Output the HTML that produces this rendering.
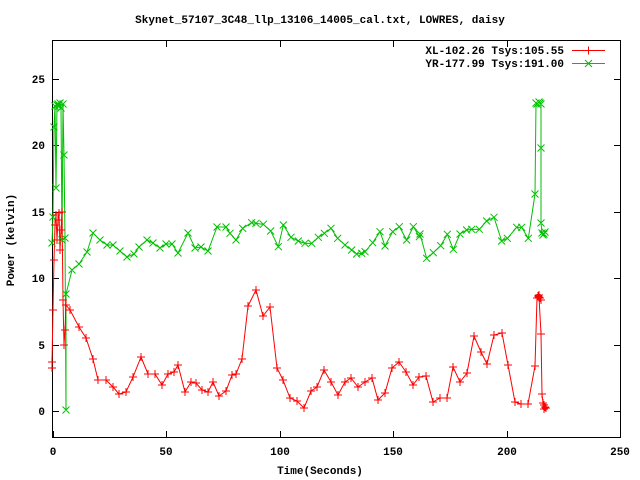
<!DOCTYPE html><html><head><meta charset="utf-8"><style>body{margin:0;background:#fff}svg{display:block}text{font-family:"Liberation Mono",monospace;font-size:11px;font-weight:bold;fill:#000}</style></head><body>
<svg id="s" width="640" height="480" xmlns="http://www.w3.org/2000/svg">
<rect x="0" y="0" width="640" height="480" fill="#fff"/>
<text x="320" y="23" text-anchor="middle">Skynet_57107_3C48_llp_13106_14005_cal.txt, LOWRES, daisy</text>
<g stroke="#000" stroke-width="1" fill="none">
<rect x="52.5" y="40.5" width="568" height="397"/>
<path d="M53 411.5h6M53 345.5h6M53 278.5h6M53 212.5h6M53 145.5h6M53 79.5h6M620 411.5h-6M620 345.5h-6M620 278.5h-6M620 212.5h-6M620 145.5h-6M620 79.5h-6M53.5 437v-6M166.5 437v-6M280.5 437v-6M393.5 437v-6M507.5 437v-6M166.5 41v6M280.5 41v6M393.5 41v6M507.5 41v6"/>
</g>
<g text-anchor="end"><text x="45" y="415">0</text><text x="45" y="349">5</text><text x="45" y="282">10</text><text x="45" y="216">15</text><text x="45" y="149">20</text><text x="45" y="83">25</text></g>
<g text-anchor="middle"><text x="53" y="455">0</text><text x="166" y="455">50</text><text x="280" y="455">100</text><text x="393" y="455">150</text><text x="507" y="455">200</text><text x="620" y="455">250</text>
<text x="320" y="474">Time(Seconds)</text></g>
<text transform="translate(14,240) rotate(-90)" text-anchor="middle">Power (kelvin)</text>
<g text-anchor="end"><text x="564" y="54">XL-102.26 Tsys:105.55</text><text x="564" y="67">YR-177.99 Tsys:191.00</text></g>
<g id="g"></g>
</svg>
<script>
var red=[[52,368],[52,362],[53,310],[54,260],[55,225],[56,215],[57,240],[58,220],[59,213],[60,250],[61,230],[62,212],[63,300],[64,345],[65,330],[66,305],[70,310],[79,327],[86,338],[93,359],[98,380],[106,380],[113,387],[119,394],[126,392],[133,377],[141,357],[148,374],[155,374],[162,385],[168,374],[174,372],[178,365],[185,392],[191,382],[196,383],[202,390],[208,392],[213,382],[219,396],[226,391],[232,375],[236,374],[242,359],[248,306],[256,290],[263,316],[270,307],[277,368],[283,380],[290,398],[297,401],[304,408],[311,391],[317,387],[324,370],[331,382],[338,395],[345,382],[351,378],[358,387],[365,382],[372,378],[378,400],[385,393],[392,368],[399,362],[406,372],[413,385],[419,377],[426,376],[433,402],[440,398],[447,398],[453,367],[460,382],[467,373],[474,336],[481,352],[487,364],[494,335],[502,333],[508,365],[515,402],[521,404],[528,404],[535,366],[537,298],[538,296],[539,295],[540,298],[541,300],[539,297],[541,334],[542,394],[543,403],[544,405],[545,407],[544,409],[546,408]];
var gz=[[0,160],[18,180],[38,145],[65,128],[78,130],[100,133],[122,153],[145,200],[160,135],[183,172],[205,183],[225,190],[245,190],[265,172],[283,160],[303,145],[323,175],[345,195],[365,210],[380,222],[395,220],[405,215],[428,188],[450,155],[465,198],[488,155],[508,140],[530,180],[550,140],[568,170]];
var green=[[52,243],[53,217],[54,127],[55,106],[56,188],[57,105],[58,104],[59,106],[60,103],[61,108],[62,240],[63,104],[64,155],[65,238],[66,410],[66,294],[72,270],[79,264],[87,252],[93,233],[100,240],[107,245],[113,245],[120,251],[127,257],[134,254],[139,247],[147,240],[153,243],[160,248],[166,244],[172,244],[178,253],[188,233],[195,248],[201,247],[208,251],[217,227],[226,227]];
gz.forEach(function(p){green.push([230+p[0]/3,180+p[1]/3]);});
[[0,432],[20,505],[40,488],[62,467],[82,433],[100,478],[120,432],[140,420],[155,418],[178,418],[200,393],[222,382],[245,453],[262,445],[290,412],[305,412],[325,445]].forEach(function(p){green.push([420+p[0]/3,90+p[1]/3]);});
green=green.concat([[535,194],[536,103],[537,104],[539,102],[540,103],[541,104],[541,148],[541,223],[542,233],[544,234],[545,232],[543,235]]);
var s='';
function line(a,c){s+='<polyline fill="none" stroke="'+c+'" stroke-width="1" points="'+a.map(function(p){return p.join(',')}).join(' ')+'"/>';}
line(green,'#00c000');line(red,'#ff0000');
var m='';
green.forEach(function(p){m+='M'+(p[0]-3.5)+' '+(p[1]-3.5)+'l7 7M'+(p[0]-3.5)+' '+(p[1]+3.5)+'l7 -7';});
s+='<path d="'+m+'M585 60l7 7M585 67l7 -7" stroke="#00c000" fill="none"/>';
m='';
red.forEach(function(p){m+='M'+(p[0]-4)+' '+p[1]+'h8M'+p[0]+' '+(p[1]-4)+'v8';});
s+='<path d="'+m+'M584.5 50.5h8M588.5 46.5v8" stroke="#ff0000" fill="none"/>';
s+='<path d="M572 50.5h33" stroke="#ff0000"/><path d="M572 63.5h33" stroke="#00c000"/>';
document.getElementById('g').innerHTML=s;
</script>
</body></html>
